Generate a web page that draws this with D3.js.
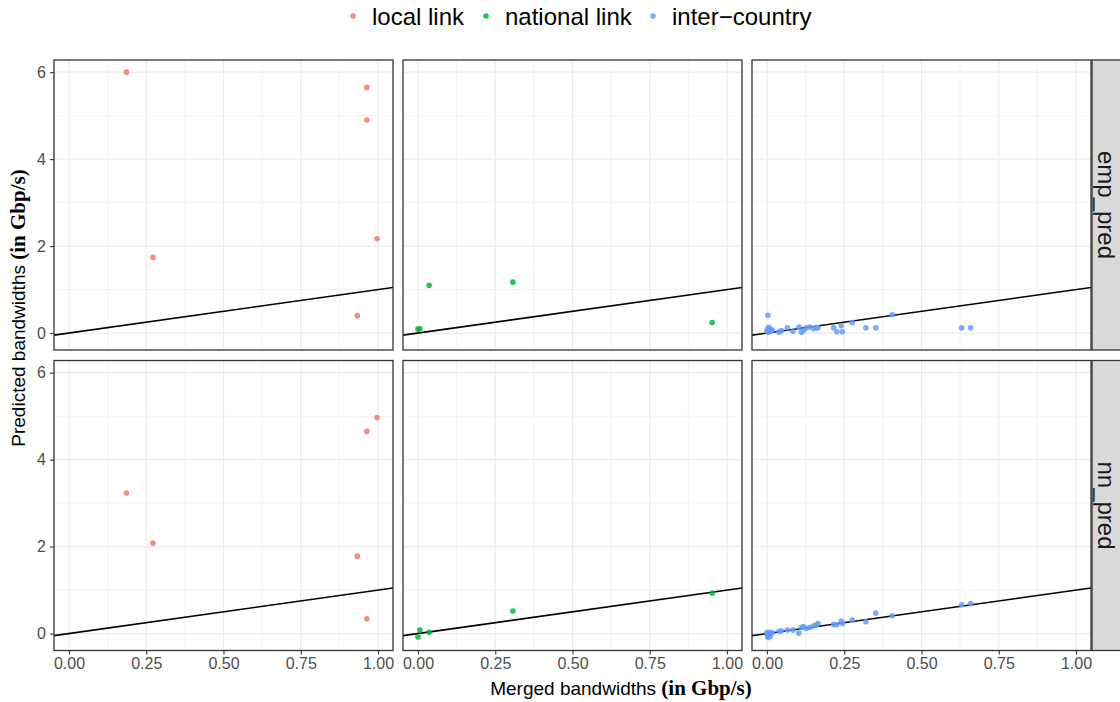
<!DOCTYPE html>
<html><head><meta charset="utf-8">
<script src="https://cdn.jsdelivr.net/npm/d3@7"></script>
<style>body{margin:0;background:#fff;}svg{display:block;font-family:"Liberation Sans",Arial,sans-serif;}</style>
</head><body>
<svg id="chart" width="1120" height="702"></svg>
<script>
// ---------- data ----------
const categories = ["local link", "national link", "inter-country"];
const rows = ["emp_pred", "nn_pred"];
const colors = ["#F8766D", "#00BA38", "#619CFF"];
const xTicks = [0, 0.25, 0.5, 0.75, 1];
const yTicks = [0, 2, 4, 6];

const localX   = [0.186, 0.272, 0.964, 0.964, 0.997, 0.933];
const localEmp = [6.00, 1.74, 5.65, 4.90, 2.17, 0.40];
const localNn  = [3.23, 2.08, 0.34, 4.65, 4.97, 1.78];

const nationalX   = [0.000, 0.006, 0.036, 0.307, 0.952];
const nationalEmp = [0.09, 0.10, 1.10, 1.17, 0.24];
const nationalNn  = [-0.08, 0.08, 0.03, 0.52, 0.93];

const interX   = [0.000, 0.002, 0.003, 0.004, 0.006, 0.008, 0.010, 0.012, 0.017, 0.039, 0.046, 0.066, 0.084, 0.103, 0.111, 0.118, 0.127, 0.138, 0.151, 0.160, 0.165, 0.216, 0.226, 0.240, 0.244, 0.276, 0.320, 0.352, 0.405, 0.630, 0.659];
const interEmp = [0.05, 0.10, 0.41, 0.02, 0.13, 0.06, 0.09, 0.04, 0.07, 0.02, 0.06, 0.12, 0.04, 0.14, 0.02, 0.06, 0.12, 0.14, 0.10, 0.12, 0.12, 0.12, 0.03, 0.17, 0.03, 0.24, 0.12, 0.12, 0.42, 0.12, 0.12];
const interNn  = [0.02, -0.05, 0.00, -0.09, -0.03, 0.03, -0.06, 0.01, 0.02, 0.05, 0.06, 0.08, 0.08, 0.01, 0.14, 0.16, 0.12, 0.14, 0.18, 0.20, 0.23, 0.21, 0.20, 0.29, 0.23, 0.31, 0.27, 0.47, 0.41, 0.66, 0.69];

const series = [
  {x: localX, emp_pred: localEmp, nn_pred: localNn},
  {x: nationalX, emp_pred: nationalEmp, nn_pred: nationalNn},
  {x: interX, emp_pred: interEmp, nn_pred: interNn}
];

// ---------- layout ----------
const svg = d3.select("#chart");
const panelLeft = [54, 403, 752];
const panelTop = [60, 360.5];
const pw = 339, ph = 290;

const x = d3.scaleLinear().domain([-0.0485, 1.0485]).range([0, pw]);
const y = d3.scaleLinear().domain([-0.39, 6.28]).range([ph, 0]);
const xMinor = [0.125, 0.375, 0.625, 0.875];
const yMinor = [1, 3, 5];

rows.forEach((row, ri) => {
  categories.forEach((cat, ci) => {
    const g = svg.append("g").attr("transform", `translate(${panelLeft[ci]},${panelTop[ri]})`);
    const clipId = `clip-${ri}-${ci}`;
    g.append("clipPath").attr("id", clipId).append("rect").attr("width", pw).attr("height", ph);
    g.append("rect").attr("width", pw).attr("height", ph).attr("fill", "#fff");
    g.selectAll(".xm").data(xMinor).join("line")
      .attr("x1", d => x(d)).attr("x2", d => x(d)).attr("y1", 0).attr("y2", ph)
      .attr("stroke", "#EBEBEB").attr("stroke-width", 0.6);
    g.selectAll(".ym").data(yMinor).join("line")
      .attr("y1", d => y(d)).attr("y2", d => y(d)).attr("x1", 0).attr("x2", pw)
      .attr("stroke", "#EBEBEB").attr("stroke-width", 0.6);
    g.selectAll(".xg").data(xTicks).join("line")
      .attr("x1", d => x(d)).attr("x2", d => x(d)).attr("y1", 0).attr("y2", ph)
      .attr("stroke", "#EBEBEB").attr("stroke-width", 1.2);
    g.selectAll(".yg").data(yTicks).join("line")
      .attr("y1", d => y(d)).attr("y2", d => y(d)).attr("x1", 0).attr("x2", pw)
      .attr("stroke", "#EBEBEB").attr("stroke-width", 1.2);
    const dom = x.domain();
    g.append("line").attr("clip-path", `url(#${clipId})`)
      .attr("x1", x(dom[0])).attr("y1", y(dom[0])).attr("x2", x(dom[1])).attr("y2", y(dom[1]))
      .attr("stroke", "#000").attr("stroke-width", 1.6);
    const s = series[ci];
    const pts = s.x.map((v, i) => ({x: v, y: s[row][i]}));
    g.append("g").attr("clip-path", `url(#${clipId})`)
      .selectAll("circle").data(pts).join("circle")
      .attr("cx", d => x(d.x)).attr("cy", d => y(d.y)).attr("r", 2.8)
      .attr("fill", colors[ci]).attr("fill-opacity", 0.85);
    g.append("rect").attr("width", pw).attr("height", ph)
      .attr("fill", "none").attr("stroke", "#333333").attr("stroke-width", 1.3);
    if (ci === 0) {
      const ya = g.append("g").call(d3.axisLeft(y).tickValues(yTicks).tickSize(4).tickPadding(4).tickFormat(d3.format("d")));
      ya.select(".domain").remove();
      ya.selectAll("line").attr("stroke", "#333333").attr("stroke-width", 1.1);
      ya.selectAll("text").attr("fill", "#4D4D4D").attr("font-size", 16).attr("font-family", "Liberation Sans, Arial, sans-serif");
    }
    if (ri === rows.length - 1) {
      const xa = g.append("g").attr("transform", `translate(0,${ph})`)
        .call(d3.axisBottom(x).tickValues(xTicks).tickSize(4).tickPadding(3).tickFormat(d3.format(".2f")));
      xa.select(".domain").remove();
      xa.selectAll("line").attr("stroke", "#333333").attr("stroke-width", 1.1);
      xa.selectAll("text").attr("fill", "#4D4D4D").attr("font-size", 16).attr("font-family", "Liberation Sans, Arial, sans-serif");
    }
  });
  const sx = panelLeft[2] + pw + 1;
  const sg = svg.append("g").attr("transform", `translate(${sx},${panelTop[ri]})`);
  sg.append("rect").attr("width", 40).attr("height", ph).attr("fill", "#D9D9D9")
    .attr("stroke", "#333333").attr("stroke-width", 1.3);
  sg.append("text").attr("transform", `translate(${14},${ph / 2}) rotate(90)`)
    .attr("text-anchor", "middle").attr("dominant-baseline", "central")
    .attr("font-size", 24).attr("fill", "#1A1A1A").text(row);
});

// axis titles
const xt = svg.append("text").attr("x", 621).attr("y", 695).attr("text-anchor", "middle").attr("font-size", 19).attr("fill", "#000");
xt.append("tspan").text("Merged bandwidths ");
xt.append("tspan").attr("font-family", "Liberation Serif, Times New Roman, serif").attr("font-weight", "bold").attr("font-size", 21).text("(in Gbp/s)");

const yt = svg.append("text").attr("transform", "translate(25,308) rotate(-90)").attr("text-anchor", "middle").attr("font-size", 19).attr("fill", "#000");
yt.append("tspan").text("Predicted bandwidths ");
yt.append("tspan").attr("font-family", "Liberation Serif, Times New Roman, serif").attr("font-weight", "bold").attr("font-size", 21).text("(in Gbp/s)");

// legend
const legX = [353, 486, 653];
const lg = svg.append("g");
categories.forEach((c, i) => {
  lg.append("circle").attr("cx", legX[i]).attr("cy", 16).attr("r", 2.8).attr("fill", colors[i]).attr("fill-opacity", 0.85);
  lg.append("text").attr("x", legX[i] + 19).attr("y", 16).attr("dominant-baseline", "central")
    .attr("font-size", 24).attr("fill", "#000").text(c.replace("-", "\u2212"));
});
</script>
</body></html>
